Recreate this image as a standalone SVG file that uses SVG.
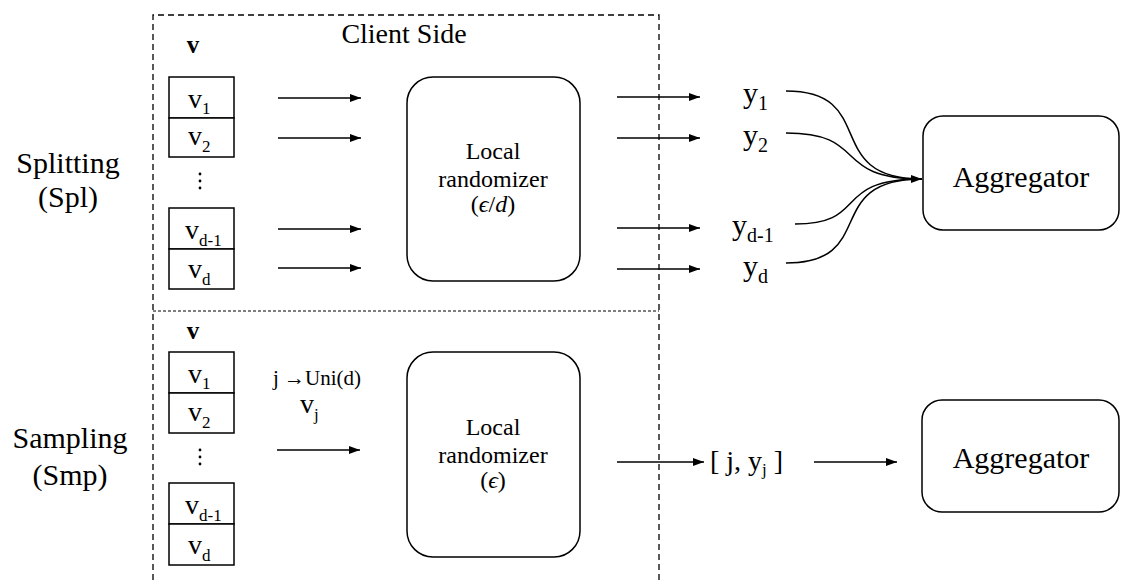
<svg xmlns="http://www.w3.org/2000/svg" width="1122" height="584" viewBox="0 0 1122 584" font-family="Liberation Serif">
<defs>
<marker id="ah" viewBox="0 0 11 8" refX="11" refY="4" markerWidth="11" markerHeight="8" markerUnits="userSpaceOnUse" orient="auto">
<path d="M0,0 L11,4 L0,8 z" fill="#000"/>
</marker>
</defs>
<rect width="1122" height="584" fill="#fff"/>

<g id="client-frame">
<path d="M153,590 L153,15 L659,15 L659,590" fill="none" stroke="#000" stroke-width="1.3" stroke-dasharray="6,4"/>
<line x1="153" y1="311" x2="659" y2="311" stroke="#000" stroke-width="1" stroke-dasharray="3,2"/>
<text x="404" y="43" font-family="Liberation Serif" font-size="28" text-anchor="middle">Client Side</text>
</g>

<g id="label-spl">
<text x="68" y="173" font-family="Liberation Serif" font-size="30" text-anchor="middle">Splitting</text>
<text x="68" y="207" font-family="Liberation Serif" font-size="30" text-anchor="middle">(Spl)</text>
</g>
<g id="label-smp">
<text x="70" y="448" font-family="Liberation Serif" font-size="30" text-anchor="middle">Sampling</text>
<text x="70" y="485" font-family="Liberation Serif" font-size="30" text-anchor="middle">(Smp)</text>
</g>

<g id="vector-spl">
<text x="193" y="53" font-family="Liberation Serif" font-size="25" font-weight="bold" text-anchor="middle">v</text>
<g fill="#fff" stroke="#000" stroke-width="1.5">
<rect x="169" y="77" width="65" height="41"/>
<rect x="169" y="118" width="65" height="39"/>
<rect x="169" y="208" width="65" height="41"/>
<rect x="169" y="249" width="65" height="40"/>
</g>
<text x="188" y="108" font-family="Liberation Serif" font-size="28">v<tspan font-size="17" dy="6">1</tspan></text>
<text x="188" y="145" font-family="Liberation Serif" font-size="28">v<tspan font-size="17" dy="7">2</tspan></text>
<text x="185" y="239" font-family="Liberation Serif" font-size="28">v<tspan font-size="17" dy="7">d-1</tspan></text>
<text x="188" y="278" font-family="Liberation Serif" font-size="28">v<tspan font-size="17" dy="7">d</tspan></text>
<circle cx="200" cy="174" r="1.4"/><circle cx="200" cy="181" r="1.4"/><circle cx="200" cy="188" r="1.4"/>
</g>

<g id="vector-smp">
<text x="193" y="339" font-family="Liberation Serif" font-size="25" font-weight="bold" text-anchor="middle">v</text>
<g fill="#fff" stroke="#000" stroke-width="1.5">
<rect x="169" y="352" width="65" height="41"/>
<rect x="169" y="393" width="65" height="40"/>
<rect x="169" y="483" width="65" height="41"/>
<rect x="169" y="524" width="65" height="41"/>
</g>
<text x="188" y="383" font-family="Liberation Serif" font-size="28">v<tspan font-size="17" dy="6">1</tspan></text>
<text x="188" y="421" font-family="Liberation Serif" font-size="28">v<tspan font-size="17" dy="7">2</tspan></text>
<text x="185" y="514" font-family="Liberation Serif" font-size="28">v<tspan font-size="17" dy="7">d-1</tspan></text>
<text x="188" y="554" font-family="Liberation Serif" font-size="28">v<tspan font-size="17" dy="7">d</tspan></text>
<circle cx="200" cy="450" r="1.4"/><circle cx="200" cy="457" r="1.4"/><circle cx="200" cy="464" r="1.4"/>
</g>

<g id="randomizer-spl">
<rect x="407" y="77" width="173" height="204" rx="26" fill="none" stroke="#000" stroke-width="1.5"/>
<text x="493" y="159" font-family="Liberation Serif" font-size="24" text-anchor="middle">Local</text>
<text x="493" y="187" font-family="Liberation Serif" font-size="24" text-anchor="middle">randomizer</text>
<text x="493" y="212" font-family="Liberation Serif" font-size="24" text-anchor="middle">(<tspan font-style="italic">ϵ</tspan>/<tspan font-style="italic">d</tspan>)</text>
</g>

<g id="randomizer-smp">
<rect x="407" y="352" width="173" height="205" rx="26" fill="none" stroke="#000" stroke-width="1.5"/>
<text x="493" y="435" font-family="Liberation Serif" font-size="24" text-anchor="middle">Local</text>
<text x="493" y="463" font-family="Liberation Serif" font-size="24" text-anchor="middle">randomizer</text>
<text x="493" y="488" font-family="Liberation Serif" font-size="24" text-anchor="middle">(<tspan font-style="italic">ϵ</tspan>)</text>
</g>

<g id="outputs-spl">
<text x="743" y="103" font-family="Liberation Serif" font-size="30">y<tspan font-size="20" dy="7">1</tspan></text>
<text x="743" y="145" font-family="Liberation Serif" font-size="30">y<tspan font-size="20" dy="7">2</tspan></text>
<text x="732" y="235" font-family="Liberation Serif" font-size="30">y<tspan font-size="20" dy="7">d-1</tspan></text>
<text x="743" y="276" font-family="Liberation Serif" font-size="30">y<tspan font-size="20" dy="7">d</tspan></text>
</g>

<g id="output-smp">
<text x="710" y="470" font-family="Liberation Serif" font-size="28">[ j, y<tspan font-size="17" dy="5">j</tspan><tspan dy="-5"> ]</tspan></text>
</g>

<g id="aggregator-spl">
<rect x="923" y="116" width="196" height="114" rx="20" fill="none" stroke="#000" stroke-width="1.5"/>
<text x="1021" y="187" font-family="Liberation Serif" font-size="30" text-anchor="middle">Aggregator</text>
</g>

<g id="aggregator-smp">
<rect x="922" y="400" width="197" height="112" rx="20" fill="none" stroke="#000" stroke-width="1.5"/>
<text x="1021" y="468" font-family="Liberation Serif" font-size="30" text-anchor="middle">Aggregator</text>
</g>

<g id="connectors" fill="none" stroke="#000" stroke-width="1.5">
<line x1="278" y1="98" x2="361" y2="98" marker-end="url(#ah)"/>
<line x1="278" y1="138" x2="361" y2="138" marker-end="url(#ah)"/>
<line x1="278" y1="229" x2="361" y2="229" marker-end="url(#ah)"/>
<line x1="278" y1="268" x2="361" y2="268" marker-end="url(#ah)"/>
<line x1="617" y1="97" x2="700" y2="97" marker-end="url(#ah)"/>
<line x1="617" y1="138" x2="700" y2="138" marker-end="url(#ah)"/>
<line x1="617" y1="228" x2="700" y2="228" marker-end="url(#ah)"/>
<line x1="617" y1="269" x2="700" y2="269" marker-end="url(#ah)"/>
<path d="M786,91 C880,91 820,179 922,179" marker-end="url(#ah)"/>
<path d="M786,133 C870,133 830,179 922,179"/>
<path d="M795,224 C870,224 830,179 922,179"/>
<path d="M786,263 C880,263 820,179 922,179"/>
<line x1="277" y1="450" x2="360" y2="450" marker-end="url(#ah)"/>
<line x1="617" y1="462" x2="704" y2="462" marker-end="url(#ah)"/>
<line x1="814" y1="462" x2="897" y2="462" marker-end="url(#ah)"/>
</g>
<g id="connector-labels">
<text x="273" y="385" font-family="Liberation Serif" font-size="21">j →Uni(d)</text>
<text x="300" y="413" font-family="Liberation Serif" font-size="28">v<tspan font-size="17" dy="7">j</tspan></text>
</g>
</svg>
